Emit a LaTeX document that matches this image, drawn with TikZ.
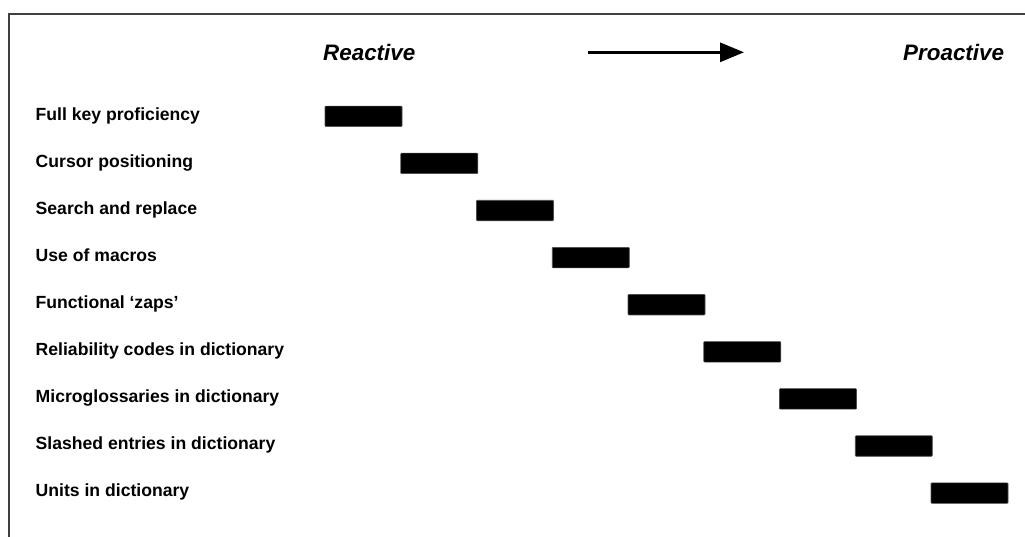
\documentclass[tikz,border=0pt]{standalone}
\usepackage{fontspec}
\setmainfont{Liberation Sans}
\usetikzlibrary{arrows.meta}
\begin{document}
\begin{tikzpicture}[x=1pt,y=-1pt,
  bar/.style={fill=black,draw=black!70,line width=0.6pt,minimum width=77pt,minimum height=20.5pt,inner sep=0pt,rounded corners=0.8pt},
  lab/.style={anchor=base west,inner sep=0pt,font=\fontsize{17.6}{20}\selectfont\bfseries},
  head/.style={anchor=base west,inner sep=0pt,font=\fontsize{22.4}{24}\selectfont\bfseries\itshape},
  frame/.style={draw=black!75,line width=1.5pt}]
\useasboundingbox (0,0) rectangle (1025,536);
\begin{scope}
\clip (0,0) rectangle (1025,536);
\draw[frame] (9,14) rectangle (1040,550);
\end{scope}
\node[head] (reactive) at (323,60.5) {Reactive};
\node[head] (proactive) at (903,60.5) {Proactive};
\coordinate (as) at (588,52.3);
\coordinate (ae) at (744,52.3);
\draw[line width=3pt,-{Triangle[length=24pt,width=19pt]}] (as) -- (ae);
\foreach \t [count=\i from 0] in {Full key proficiency,Cursor positioning,Search and replace,Use of macros,Functional ‘zaps’,Reliability codes in dictionary,Microglossaries in dictionary,Slashed entries in dictionary,Units in dictionary}{
  \node[lab] (l\i) at (35.5,120+\i*47.05) {\t};
  \node[bar] (b\i) at (363.5+\i*75.75,116.3+\i*47.1) {};
}
\end{tikzpicture}
\end{document}
